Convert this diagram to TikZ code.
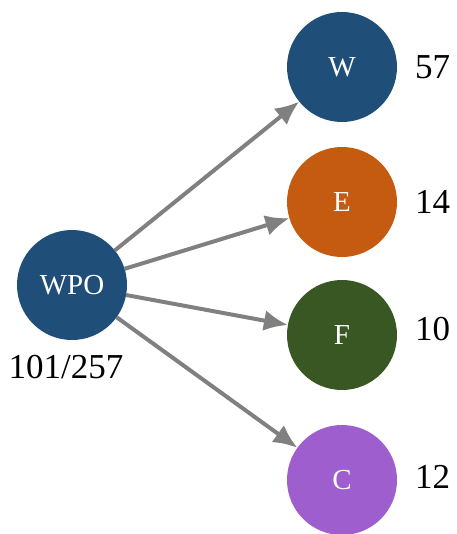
\documentclass[tikz,border=0pt]{standalone}
\usepackage{fontspec}
\setmainfont{Liberation Serif}
\usetikzlibrary{positioning,arrows.meta}

\begin{document}
\begin{tikzpicture}[
     % define styles
     group/.style={
         circle,
         draw=none,
         minimum size=110pt,
         inner sep=0pt,
         outer sep=0pt,
         text=white,
         font=\fontsize{29}{34}\selectfont
     },
     count/.style={
         inner sep=2pt,
         font=\fontsize{35}{40}\selectfont
     },
     link/.style={
         ->,
         draw=linkgray,
         line width=4pt
     },
     >={Latex[length=24pt,width=21pt]}
]
\definecolor{wpoblue}{HTML}{1F4E79}
\definecolor{eorange}{HTML}{C55A11}
\definecolor{fgreen}{HTML}{385723}
\definecolor{cpurple}{HTML}{9E5ECE}
\definecolor{linkgray}{HTML}{808080}

\useasboundingbox (0pt,0pt) rectangle (456pt,-534pt);

% source node
\node[group, fill=wpoblue] (wpo) at (72pt,-285pt) {WPO};
\node[count, below=13pt of wpo, xshift=-6pt] (wpo-n) {101/257};

% target nodes
\node[group, fill=wpoblue] (w) at (342pt,-67pt) {W};
\node[group, fill=eorange] (e) at (342pt,-202pt) {E};
\node[group, fill=fgreen] (f) at (342pt,-335pt) {F};
\node[group, fill=cpurple] (c) at (342pt,-480pt) {C};

% counts
\node[count, right=16pt of w] (w-n) {57};
\node[count, right=16pt of e] (e-n) {14};
\node[count, right=16pt of f, yshift=6pt] (f-n) {10};
\node[count, right=16pt of c, yshift=3pt] (c-n) {12};

% links
\draw[link] (wpo) -- (w);
\draw[link] (wpo) -- (e);
\draw[link] (wpo) -- (f);
\draw[link] (wpo) -- (c);

\end{tikzpicture}
\end{document}
